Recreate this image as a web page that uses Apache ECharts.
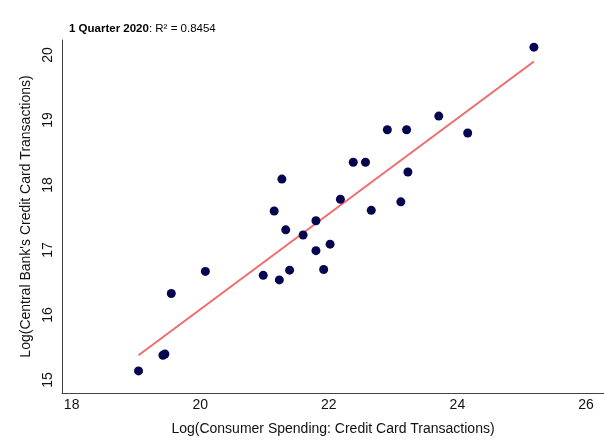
<!DOCTYPE html>
<html>
<head>
<meta charset="utf-8">
<script src="https://cdn.jsdelivr.net/npm/echarts@6/dist/echarts.min.js"></script>
<style>
  html, body { margin: 0; padding: 0; background: #fff; }
  #chart { width: 604px; height: 445px; }
</style>
</head>
<body>
<div id="chart"></div>
<script>
// Log consumer spending (x) vs log central-bank credit card transactions (y)
const spendingLog = [25.19, 19.04, 19.42, 19.45, 19.55, 20.08, 20.98, 21.23, 21.39, 21.92,
                     22.02, 21.80, 21.60, 21.33, 21.15, 21.80, 21.27, 22.18, 22.38, 22.57,
                     22.66, 23.12, 23.23, 22.91, 23.21, 23.71, 24.16];
const bankLog     = [20.12, 15.14, 15.38, 15.40, 16.33, 16.67, 16.61, 16.54, 16.69, 16.70,
                     17.09, 16.99, 17.23, 17.31, 17.60, 17.45, 18.09, 17.78, 18.35, 18.35,
                     17.61, 17.74, 18.20, 18.85, 18.85, 19.06, 18.80];

// Fitted regression line endpoints
const fitX = [19.04, 25.19];
const fitY = [15.38, 19.90];

const xTicks = [18, 20, 22, 24, 26];
const yTicks = [15, 16, 17, 18, 19, 20];

const points = spendingLog.map((v, i) => [v, bankLog[i]]);
const fitLine = fitX.map((v, i) => [v, fitY[i]]);

const font = 'Liberation Sans, Arial, Helvetica, sans-serif';
const chart = echarts.init(document.getElementById('chart'), null, { renderer: 'canvas' });

chart.setOption({
  animation: false,
  backgroundColor: '#ffffff',
  title: {
    text: '{b|1 Quarter 2020}{n|: R² = 0.8454}',
    left: 64,
    top: 18,
    textStyle: {
      fontWeight: 'normal',
      rich: {
        b: { fontFamily: font, fontSize: 11.5, fontWeight: 'bold', color: '#000' },
        n: { fontFamily: font, fontSize: 11.5, fontWeight: 'normal', color: '#000' }
      }
    }
  },
  grid: { left: 62, top: 40, width: 542, height: 353, containLabel: false },
  xAxis: {
    type: 'value',
    min: 17.85,
    max: 26.28,
    name: 'Log(Consumer Spending: Credit Card Transactions)',
    nameLocation: 'middle',
    nameGap: 29,
    nameTextStyle: { fontFamily: font, fontSize: 14, color: '#111' },
    axisLine: { show: true, lineStyle: { color: '#444', width: 1 } },
    axisTick: { show: false },
    splitLine: { show: false },
    axisLabel: {
      customValues: xTicks,
      fontFamily: font, fontSize: 14, color: '#111', margin: 5
    }
  },
  yAxis: {
    type: 'value',
    min: 14.8,
    max: 20.23,
    name: "Log(Central Bank's Credit Card Transactions)",
    nameLocation: 'middle',
    nameGap: 28,
    nameRotate: 90,
    nameTextStyle: { fontFamily: font, fontSize: 14, color: '#111' },
    axisLine: { show: true, lineStyle: { color: '#444', width: 1 } },
    axisTick: { show: false },
    splitLine: { show: false },
    axisLabel: {
      customValues: yTicks,
      rotate: 90,
      fontFamily: font, fontSize: 14, color: '#111', margin: 7
    }
  },
  series: [
    {
      type: 'line',
      data: fitLine,
      symbol: 'none',
      lineStyle: { color: '#f26b6b', width: 2 },
      z: 2
    },
    {
      type: 'scatter',
      data: points,
      symbol: 'circle',
      symbolSize: 9,
      itemStyle: { color: '#05054f', opacity: 1 },
      z: 3
    }
  ]
});
</script>
</body>
</html>
